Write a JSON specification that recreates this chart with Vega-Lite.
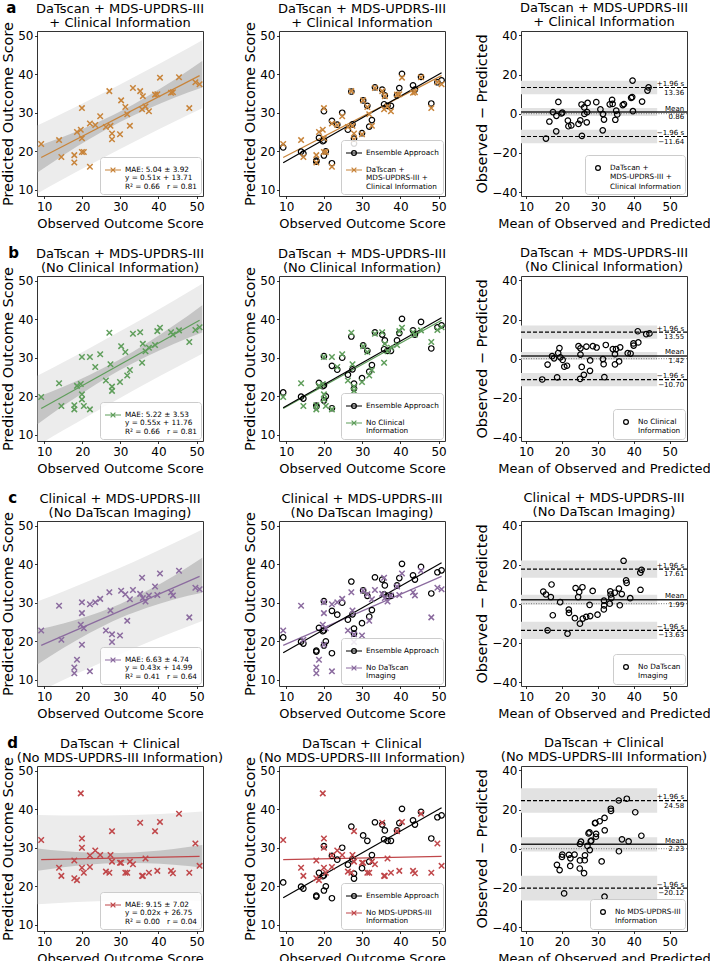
{
"$schema": "https://vega.github.io/schema/vega-lite/v6.json",
"padding": {"left": 0, "top": 1, "right": 0, "bottom": 0},
"background": "white",
"config": {
  "font": "DejaVu Sans",
  "view": {"stroke": "#333333", "strokeWidth": 1},
  "axis": {"domain": false, "grid": false, "tickSize": 2.5, "tickWidth": 0.8, "tickColor": "#000000", "labelFontSize": 12, "labelColor": "#000000", "labelPadding": 1.5, "titleFontSize": 13, "titleFontWeight": "normal", "titleColor": "#000000", "labelFlush": false, "labelOverlap": false, "titlePadding": 2},
  "axisX": {"labelPadding": 2.5, "titlePadding": 5},
  "axisY": {"titleFontSize": 14.5},
  "title": {"fontSize": 13, "fontWeight": "normal", "color": "#000000", "frame": "group", "anchor": "middle", "offset": 3, "lineHeight": 14},
  "legend": {"orient": "bottom-right", "offset": 2, "padding": 4, "strokeColor": "#cccccc", "fillColor": "rgba(255,255,255,0.85)", "cornerRadius": 3, "labelFontSize": 7.3, "labelColor": "#000000", "symbolSize": 256, "symbolStrokeWidth": 1.2, "labelOffset": 3, "rowPadding": 3, "labelLimit": 300, "labelBaseline": "middle"}
},
"datasets": {
  "pts": [
    {"obs":9.2,"ens":21.0,"pa":21.9,"ma":15.55,"da":-12.7,"pb":19.8,"mb":14.5,"db":-10.6,"pc":22.8,"mc":16.0,"dc":-13.6,"pd":32.0,"md":20.6,"dd":-22.8},
    {"obs":13.9,"ens":19.9,"pa":22.9,"ma":18.4,"da":-9.0,"pb":23.4,"mb":18.65,"db":-9.5,"pc":29.2,"mc":21.55,"dc":-15.3,"pd":24.8,"md":19.35,"dd":-10.9},
    {"obs":14.5,"ens":19.4,"pa":18.5,"ma":16.5,"da":-4.0,"pb":17.5,"mb":16.0,"db":-3.0,"pc":20.4,"mc":17.45,"dc":-5.9,"pd":22.7,"md":18.6,"dd":-8.2},
    {"obs":17.9,"ens":17.3,"pa":19.0,"ma":18.45,"da":-1.1,"pb":17.7,"mb":17.8,"db":0.2,"pc":13.2,"mc":15.55,"dc":4.7,"pd":26.7,"md":22.3,"dd":-8.8},
    {"obs":17.9,"ens":17.6,"pa":17.1,"ma":17.5,"da":0.8,"pb":16.6,"mb":17.25,"db":1.3,"pc":11.7,"mc":14.8,"dc":6.2,"pd":22.1,"md":20.0,"dd":-4.2},
    {"obs":18.6,"ens":23.5,"pa":25.0,"ma":21.8,"da":-6.4,"pb":22.7,"mb":20.65,"db":-4.1,"pc":15.2,"mc":16.9,"dc":3.4,"pd":21.6,"md":20.1,"dd":-3.0},
    {"obs":19.6,"ens":22.6,"pa":25.6,"ma":22.6,"da":-6.0,"pb":23.2,"mb":21.4,"db":-3.6,"pc":24.3,"mc":21.95,"dc":-4.7,"pd":44.1,"md":31.85,"dd":-24.5},
    {"obs":19.9,"ens":30.4,"pa":31.2,"ma":25.55,"da":-11.3,"pb":30.2,"mb":25.05,"db":-10.3,"pc":30.1,"mc":25.0,"dc":-10.2,"pd":32.4,"md":26.15,"dd":-12.5},
    {"obs":19.9,"ens":22.8,"pa":23.4,"ma":21.65,"da":-3.5,"pb":20.5,"mb":20.2,"db":-0.6,"pc":27.3,"mc":23.6,"dc":-7.4,"pd":30.0,"md":24.95,"dd":-10.1},
    {"obs":19.9,"ens":18.9,"pa":19.8,"ma":19.85,"da":0.1,"pb":19.2,"mb":19.55,"db":0.7,"pc":19.1,"mc":19.5,"dc":0.8,"pd":24.8,"md":22.35,"dd":-4.9},
    {"obs":20.4,"ens":20.0,"pa":19.8,"ma":20.1,"da":0.6,"pb":17.5,"mb":18.95,"db":2.9,"pc":23.4,"mc":21.9,"dc":-3.0,"pd":23.5,"md":21.95,"dd":-3.1},
    {"obs":22.0,"ens":27.9,"pa":27.2,"ma":24.6,"da":-5.2,"pb":30.2,"mb":26.1,"db":-8.2,"pc":29.6,"mc":25.8,"dc":-7.6,"pd":28.0,"md":25.0,"dd":-6.0},
    {"obs":22.0,"ens":16.9,"pa":16.0,"ma":19.0,"da":6.0,"pb":16.6,"mb":19.3,"db":5.4,"pc":12.2,"mc":17.1,"dc":9.8,"pd":25.0,"md":23.5,"dd":-3.0},
    {"obs":23.4,"ens":26.9,"pa":26.8,"ma":25.1,"da":-3.4,"pb":27.6,"mb":25.5,"db":-4.2,"pc":30.1,"mc":26.75,"dc":-6.7,"pd":29.3,"md":26.35,"dd":-5.9},
    {"obs":24.7,"ens":30.0,"pa":29.1,"ma":26.9,"da":-4.4,"pb":30.9,"mb":27.8,"db":-6.2,"pc":31.0,"mc":27.85,"dc":-6.3,"pd":28.1,"md":26.4,"dd":-3.4},
    {"obs":26.2,"ens":25.6,"pa":26.3,"ma":26.25,"da":-0.1,"pb":24.1,"mb":25.15,"db":2.1,"pc":22.8,"mc":24.5,"dc":3.4,"pd":23.8,"md":25.0,"dd":2.4},
    {"obs":27.1,"ens":35.5,"pa":35.6,"ma":31.35,"da":-8.5,"pb":36.5,"mb":31.8,"db":-9.4,"pc":32.7,"mc":29.9,"dc":-5.6,"pd":23.5,"md":25.3,"dd":3.6},
    {"obs":27.4,"ens":27.0,"pa":26.6,"ma":27.0,"da":0.8,"pb":28.3,"mb":27.85,"db":-0.9,"pc":28.0,"mc":27.7,"dc":-0.6,"pd":28.1,"md":27.75,"dd":-0.7},
    {"obs":27.8,"ens":23.3,"pa":24.6,"ma":26.2,"da":3.2,"pb":22.5,"mb":25.15,"db":5.3,"pc":21.8,"mc":24.8,"dc":6.0,"pd":34.3,"md":31.05,"dd":-6.5},
    {"obs":27.8,"ens":22.0,"pa":23.1,"ma":25.45,"da":4.7,"pb":21.4,"mb":24.6,"db":6.4,"pc":19.8,"mc":23.8,"dc":8.0,"pd":26.4,"md":27.1,"dd":1.4},
    {"obs":29.9,"ens":24.7,"pa":24.4,"ma":27.15,"da":5.5,"pb":23.7,"mb":26.8,"db":6.2,"pc":21.5,"mc":25.7,"dc":8.4,"pd":26.1,"md":28.0,"dd":3.8},
    {"obs":30.2,"ens":33.2,"pa":33.2,"ma":31.7,"da":-3.0,"pb":33.0,"mb":31.6,"db":-2.8,"pc":33.1,"mc":31.65,"dc":-2.9,"pd":26.1,"md":28.15,"dd":4.1},
    {"obs":31.3,"ens":31.8,"pa":31.5,"ma":31.4,"da":-0.2,"pb":31.5,"mb":31.4,"db":-0.2,"pc":32.2,"mc":31.75,"dc":-0.9,"pd":23.5,"md":27.4,"dd":7.8},
    {"obs":31.8,"ens":26.4,"pa":29.6,"ma":30.7,"da":2.2,"pb":25.4,"mb":28.6,"db":6.4,"pc":25.3,"mc":28.55,"dc":6.5,"pd":23.5,"md":27.65,"dd":8.3},
    {"obs":32.5,"ens":28.1,"pa":26.6,"ma":29.55,"da":5.9,"pb":26.8,"mb":29.65,"db":5.7,"pc":30.9,"mc":31.7,"dc":1.6,"pd":26.4,"md":29.45,"dd":6.1},
    {"obs":33.3,"ens":36.6,"pa":36.4,"ma":34.85,"da":-3.1,"pb":36.2,"mb":34.75,"db":-2.9,"pc":33.3,"mc":33.3,"dc":0.0,"pd":25.7,"md":29.5,"dd":7.6},
    {"obs":35.2,"ens":36.0,"pa":35.6,"ma":35.4,"da":-0.4,"pb":36.6,"mb":35.9,"db":-1.4,"pc":32.3,"mc":33.75,"dc":2.9,"pd":36.5,"md":35.85,"dd":-1.3},
    {"obs":35.9,"ens":34.5,"pa":34.3,"ma":35.1,"da":1.6,"pb":33.6,"mb":34.75,"db":2.3,"pc":31.2,"mc":33.55,"dc":4.7,"pd":22.7,"md":29.3,"dd":13.2},
    {"obs":35.7,"ens":32.2,"pa":30.9,"ma":33.3,"da":4.8,"pb":28.7,"mb":32.2,"db":7.0,"pc":36.5,"mc":36.1,"dc":-0.8,"pd":22.7,"md":29.2,"dd":13.0},
    {"obs":36.6,"ens":31.8,"pa":31.6,"ma":34.1,"da":5.0,"pb":31.7,"mb":34.15,"db":4.9,"pc":30.3,"mc":33.45,"dc":6.3,"pd":27.2,"md":31.9,"dd":9.4},
    {"obs":37.5,"ens":31.8,"pa":30.4,"ma":33.95,"da":7.1,"pb":32.6,"mb":35.05,"db":4.9,"pc":31.9,"mc":34.7,"dc":5.6,"pd":23.5,"md":30.5,"dd":14.0},
    {"obs":39.1,"ens":34.5,"pa":34.7,"ma":36.9,"da":4.4,"pb":33.3,"mb":36.2,"db":5.8,"pc":34.2,"mc":36.65,"dc":4.9,"pd":34.3,"md":36.7,"dd":4.8},
    {"obs":39.7,"ens":36.4,"pa":34.8,"ma":37.25,"da":4.9,"pb":36.9,"mb":38.3,"db":2.8,"pc":32.0,"mc":35.85,"dc":7.7,"pd":24.0,"md":31.85,"dd":15.7},
    {"obs":40.4,"ens":40.1,"pa":39.1,"ma":39.75,"da":1.3,"pb":37.8,"mb":39.1,"db":2.6,"pc":37.6,"mc":39.0,"dc":2.8,"pd":36.7,"md":38.55,"dd":3.7},
    {"obs":43.3,"ens":37.1,"pa":35.2,"ma":39.25,"da":8.1,"pb":36.6,"mb":39.95,"db":6.7,"pc":32.7,"mc":38.0,"dc":10.6,"pd":24.0,"md":33.65,"dd":19.3},
    {"obs":43.8,"ens":36.0,"pa":35.3,"ma":39.55,"da":8.5,"pb":36.0,"mb":39.9,"db":7.8,"pc":31.9,"mc":37.85,"dc":11.9,"pd":23.4,"md":33.6,"dd":20.4},
    {"obs":45.4,"ens":39.3,"pa":39.2,"ma":42.3,"da":6.2,"pb":37.1,"mb":41.25,"db":8.3,"pc":38.3,"mc":41.85,"dc":7.1,"pd":38.8,"md":42.1,"dd":6.6},
    {"obs":48.1,"ens":32.4,"pa":31.2,"ma":39.65,"da":16.9,"pb":34.1,"mb":41.1,"db":14.0,"pc":26.2,"mc":37.15,"dc":21.9,"pd":23.5,"md":35.8,"dd":24.6},
    {"obs":49.7,"ens":37.9,"pa":37.9,"ma":43.8,"da":11.8,"pb":37.2,"mb":43.45,"db":12.5,"pc":33.9,"mc":41.8,"dc":15.8,"pd":31.1,"md":40.4,"dd":18.6},
    {"obs":50.8,"ens":38.4,"pa":37.4,"ma":44.1,"da":13.4,"pb":37.9,"mb":44.35,"db":12.9,"pc":33.5,"mc":42.15,"dc":17.3,"pd":25.3,"md":38.05,"dd":25.5}
  ],
  "bands": [
    {"m":"a","x":8.3,"pil":9.14,"pih":26.74,"cil":14.54,"cih":21.34},
    {"m":"a","x":15,"pil":12.78,"pih":29.94,"cil":18.96,"cih":23.76},
    {"m":"a","x":22,"pil":16.49,"pih":33.37,"cil":23.23,"cih":26.63},
    {"m":"a","x":29.8,"pil":20.53,"pih":37.29,"cil":27.56,"cih":30.26},
    {"m":"a","x":37,"pil":24.15,"pih":41.01,"cil":30.93,"cih":34.23},
    {"m":"a","x":44,"pil":27.58,"pih":44.72,"cil":33.85,"cih":38.45},
    {"m":"a","x":51.5,"pil":31.15,"pih":48.81,"cil":36.53,"cih":43.43},
    {"m":"b","x":8.3,"pil":7.27,"pih":25.39,"cil":12.83,"cih":19.83},
    {"m":"b","x":15,"pil":11.17,"pih":28.85,"cil":17.54,"cih":22.48},
    {"m":"b","x":22,"pil":15.17,"pih":32.55,"cil":22.11,"cih":25.61},
    {"m":"b","x":29.8,"pil":19.52,"pih":36.78,"cil":26.76,"cih":29.54},
    {"m":"b","x":37,"pil":23.43,"pih":40.79,"cil":30.41,"cih":33.81},
    {"m":"b","x":44,"pil":27.13,"pih":44.79,"cil":33.59,"cih":38.33},
    {"m":"b","x":51.5,"pil":31.0,"pih":49.18,"cil":36.54,"cih":43.64},
    {"m":"c","x":8.3,"pil":6.76,"pih":30.36,"cil":14.06,"cih":23.06},
    {"m":"c","x":15,"pil":9.94,"pih":32.94,"cil":18.24,"cih":24.64},
    {"m":"c","x":22,"pil":13.13,"pih":35.77,"cil":22.2,"cih":26.7},
    {"m":"c","x":29.8,"pil":16.56,"pih":39.04,"cil":26.0,"cih":29.6},
    {"m":"c","x":37,"pil":19.6,"pih":42.2,"cil":28.7,"cih":33.1},
    {"m":"c","x":44,"pil":22.42,"pih":45.4,"cil":30.86,"cih":36.96},
    {"m":"c","x":51.5,"pil":25.29,"pih":48.97,"cil":32.58,"cih":41.68},
    {"m":"d","x":8.3,"pil":15.32,"pih":38.52,"cil":24.02,"cih":29.82},
    {"m":"d","x":15,"pil":15.72,"pih":38.38,"cil":24.95,"cih":29.15},
    {"m":"d","x":22,"pil":16.04,"pih":38.34,"cil":25.64,"cih":28.74},
    {"m":"d","x":29.8,"pil":16.28,"pih":38.42,"cil":26.05,"cih":28.65},
    {"m":"d","x":37,"pil":16.36,"pih":38.62,"cil":25.99,"cih":28.99},
    {"m":"d","x":44,"pil":16.32,"pih":38.94,"cil":25.58,"cih":29.68},
    {"m":"d","x":51.5,"pil":16.13,"pih":39.43,"cil":24.88,"cih":30.68}
  ],
  "lines": [
    {"m":"a","x":9.2,"y":18.40},{"m":"a","x":50.8,"y":39.62},
    {"m":"b","x":9.2,"y":16.82},{"m":"b","x":50.8,"y":39.70},
    {"m":"c","x":9.2,"y":18.95},{"m":"c","x":50.8,"y":36.83},
    {"m":"d","x":9.2,"y":26.93},{"m":"d","x":50.8,"y":27.77},
    {"m":"ens","x":9.2,"y":17.05},{"m":"ens","x":50.8,"y":40.35}
  ],
  "babands": [
    {"m":"a","lo":-1.19,"hi":2.91},{"m":"a","lo":9.86,"hi":16.86},{"m":"a","lo":-15.14,"hi":-8.14},
    {"m":"b","lo":-0.56,"hi":3.40},{"m":"b","lo":10.15,"hi":16.95},{"m":"b","lo":-14.10,"hi":-7.30},
    {"m":"c","lo":-0.56,"hi":4.54},{"m":"c","lo":13.21,"hi":22.01},{"m":"c","lo":-18.03,"hi":-9.23},
    {"m":"d","lo":-1.42,"hi":5.88},{"m":"d","lo":18.28,"hi":30.88},{"m":"d","lo":-26.42,"hi":-13.82}
  ],
  "balines": [
    {"m":"a","kind":"mean","y":0.86,"top":"Mean","bottom":"0.86"},
    {"m":"a","kind":"up","y":13.36,"top":"+1.96 s","bottom":"13.36"},
    {"m":"a","kind":"low","y":-11.64,"top":"−1.96 s","bottom":"−11.64"},
    {"m":"b","kind":"mean","y":1.42,"top":"Mean","bottom":"1.42"},
    {"m":"b","kind":"up","y":13.55,"top":"+1.96 s","bottom":"13.55"},
    {"m":"b","kind":"low","y":-10.70,"top":"−1.96 s","bottom":"−10.70"},
    {"m":"c","kind":"mean","y":1.99,"top":"Mean","bottom":"1.99"},
    {"m":"c","kind":"up","y":17.61,"top":"+1.96 s","bottom":"17.61"},
    {"m":"c","kind":"low","y":-13.63,"top":"−1.96 s","bottom":"−13.63"},
    {"m":"d","kind":"mean","y":2.23,"top":"Mean","bottom":"2.23"},
    {"m":"d","kind":"up","y":24.58,"top":"+1.96 s","bottom":"24.58"},
    {"m":"d","kind":"low","y":-20.12,"top":"−1.96 s","bottom":"−20.12"}
  ]
},
"spacing": 15,
"resolve": {"scale": {"color": "independent"}, "legend": {"color": "independent"}},
"vconcat": [
 {
  "title": {"text": "a", "anchor": "start", "frame": "bounds", "fontWeight": "bold", "fontSize": 15, "offset": -26.5, "dx": 6, "baseline": "alphabetic"},
  "bounds": "flush", "spacing": 76,
  "resolve": {"scale": {"color": "independent"}, "legend": {"color": "independent"}},
  "hconcat": [
   {"width": 166, "height": 165, "title": {"text": ["DaTscan + MDS-UPDRS-III", "+ Clinical Information"], "offset": -8.5},
    "layer": [
     {"data": {"name": "bands"}, "transform": [{"filter": "datum.m == 'a'"}], "mark": {"type": "area", "color": "#ececec", "clip": true, "interpolate": "monotone"}, "encoding": {"x": {"field": "x", "type": "quantitative"}, "y": {"field": "pil", "type": "quantitative"}, "y2": {"field": "pih"}}},
     {"data": {"name": "bands"}, "transform": [{"filter": "datum.m == 'a'"}], "mark": {"type": "area", "color": "#c5c5c5", "clip": true, "interpolate": "monotone"}, "encoding": {"x": {"field": "x", "type": "quantitative"}, "y": {"field": "cil", "type": "quantitative"}, "y2": {"field": "cih"}}},
     {"data": {"name": "lines"}, "transform": [{"filter": "datum.m == 'a'"}], "mark": {"type": "line", "strokeWidth": 1.2}, "encoding": {"x": {"field": "x", "type": "quantitative"}, "y": {"field": "y", "type": "quantitative"},
       "color": {"datum": "MAE: 5.04 ± 3.92|y = 0.51x + 13.71|R² = 0.66\u00a0\u00a0\u00a0r = 0.81", "scale": {"range": ["#c8843a"]}, "legend": {"title": null, "labelExpr": "split(datum.label, '|')", "symbolType": "M-1,0H1M-0.3,-0.3L0.3,0.3M-0.3,0.3L0.3,-0.3", "encode": {"labels": {"update": {"lineHeight": {"value": 8.3}}}}}}}},
     {"data": {"name": "pts"}, "mark": {"type": "point", "shape": "M-1,-1L1,1M-1,1L1,-1", "filled": false, "color": "#c8843a", "size": 30, "strokeWidth": 1.5, "opacity": 1},
      "encoding": {"x": {"field": "obs", "type": "quantitative", "scale": {"domain": [8.1, 51.7], "nice": false, "zero": false}, "axis": {"title": "Observed Outcome Score", "values": [10, 20, 30, 40, 50]}},
                   "y": {"field": "pa", "type": "quantitative", "scale": {"domain": [8.4, 51.2], "nice": false, "zero": false}, "axis": {"title": "Predicted Outcome Score", "values": [10, 20, 30, 40, 50]}}}}
    ]},
   {"width": 166, "height": 165, "title": {"text": ["DaTscan + MDS-UPDRS-III", "+ Clinical Information"], "offset": -8.5},
    "layer": [
     {"data": {"name": "lines"}, "transform": [{"filter": "datum.m == 'ens' || datum.m == 'a'"}], "mark": {"type": "line", "strokeWidth": 1.2}, "encoding": {"x": {"field": "x", "type": "quantitative"}, "y": {"field": "y", "type": "quantitative"},
       "color": {"field": "m", "type": "nominal", "scale": {"domain": ["ens", "a"], "range": ["#000000", "#c8843a"]}, "legend": {"title": null, "labelExpr": "datum.value == 'ens' ? 'Ensemble Approach' : ['DaTscan +', 'MDS-UPDRS-III +', 'Clinical Information']", "encode": {"symbols": {"update": {"shape": {"signal": "datum.value == 'ens' ? 'M-1,0H1M0.3,0A0.3,0.3 0 1 1 -0.3,0A0.3,0.3 0 1 1 0.3,0' : 'M-1,0H1M-0.3,-0.3L0.3,0.3M-0.3,0.3L0.3,-0.3'"}, "fill": {"value": "transparent"}}}, "labels": {"update": {"lineHeight": {"value": 8.3}}}}}}}},
     {"data": {"name": "pts"}, "mark": {"type": "point", "shape": "circle", "filled": false, "color": "#000000", "size": 30, "strokeWidth": 1.2, "opacity": 1}, "encoding": {"x": {"field": "obs", "type": "quantitative"}, "y": {"field": "ens", "type": "quantitative"}}},
     {"data": {"name": "pts"}, "mark": {"type": "point", "shape": "M-1,-1L1,1M-1,1L1,-1", "filled": false, "color": "#c8843a", "size": 30, "strokeWidth": 1.5, "opacity": 1},
      "encoding": {"x": {"field": "obs", "type": "quantitative", "scale": {"domain": [8.1, 51.7], "nice": false, "zero": false}, "axis": {"title": "Observed Outcome Score", "values": [10, 20, 30, 40, 50]}},
                   "y": {"field": "pa", "type": "quantitative", "scale": {"domain": [8.4, 51.2], "nice": false, "zero": false}, "axis": {"title": "Predicted Outcome Score", "values": [10, 20, 30, 40, 50]}}}}
    ]},
   {"width": 166, "height": 165, "title": {"text": ["DaTscan + MDS-UPDRS-III", "+ Clinical Information"], "offset": 0},
    "layer": [
     {"data": {"name": "babands"}, "transform": [{"filter": "datum.m == 'a'"}], "mark": {"type": "rect", "color": "#e2e2e2"}, "encoding": {"x": {"datum": 8.6}, "x2": {"datum": 46.5}, "y": {"field": "lo", "type": "quantitative"}, "y2": {"field": "hi"}}},
     {"data": {"values": [{}]}, "mark": {"type": "rule", "color": "#777777", "strokeDash": [1, 1.5], "strokeWidth": 1}, "encoding": {"y": {"datum": 0}}},
     {"data": {"name": "balines"}, "transform": [{"filter": "datum.m == 'a' && datum.kind == 'mean'"}], "mark": {"type": "rule", "color": "#222222", "strokeWidth": 1.5}, "encoding": {"y": {"field": "y", "type": "quantitative"}}},
     {"data": {"name": "balines"}, "transform": [{"filter": "datum.m == 'a' && datum.kind != 'mean'"}], "mark": {"type": "rule", "color": "#000000", "strokeWidth": 1.2, "strokeDash": [4, 2]}, "encoding": {"y": {"field": "y", "type": "quantitative"}}},
     {"data": {"name": "pts"}, "mark": {"type": "point", "shape": "circle", "filled": false, "size": 30, "strokeWidth": 1.2, "opacity": 1},
      "encoding": {"x": {"field": "ma", "type": "quantitative", "scale": {"domain": [8.6, 54.8], "nice": false, "zero": false}, "axis": {"title": "Mean of Observed and Predicted", "values": [10, 20, 30, 40, 50]}},
                   "y": {"field": "da", "type": "quantitative", "scale": {"domain": [-42, 42.2], "nice": false, "zero": false}, "axis": {"title": "Observed − Predicted", "values": [-40, -20, 0, 20, 40]}},
                   "color": {"datum": "a", "scale": {"range": ["#000000"]}, "legend": {"title": null, "labelExpr": "['DaTscan +', 'MDS-UPDRS-III +', 'Clinical Information']", "symbolType": "M0.3,0A0.3,0.3 0 1 1 -0.3,0A0.3,0.3 0 1 1 0.3,0", "encode": {"symbols": {"update": {"fill": {"value": "transparent"}}}, "labels": {"update": {"lineHeight": {"value": 8.3}}}}}}}},
     {"data": {"name": "balines"}, "transform": [{"filter": "datum.m == 'a'"}], "mark": {"type": "text", "fontSize": 7, "align": "right", "baseline": "alphabetic", "dy": -1.5, "color": "#000000"}, "encoding": {"x": {"datum": 54.0}, "y": {"field": "y", "type": "quantitative"}, "text": {"field": "top"}}},
     {"data": {"name": "balines"}, "transform": [{"filter": "datum.m == 'a'"}], "mark": {"type": "text", "fontSize": 7, "align": "right", "baseline": "top", "dy": 1, "color": "#000000"}, "encoding": {"x": {"datum": 54.0}, "y": {"field": "y", "type": "quantitative"}, "text": {"field": "bottom"}}}
    ]}
  ]
 },
 {
  "title": {"text": "b", "anchor": "start", "frame": "bounds", "fontWeight": "bold", "fontSize": 15, "offset": -26.5, "dx": 8, "baseline": "alphabetic"},
  "bounds": "flush", "spacing": 76,
  "resolve": {"scale": {"color": "independent"}, "legend": {"color": "independent"}},
  "hconcat": [
   {"width": 166, "height": 165, "title": {"text": ["DaTscan + MDS-UPDRS-III", "(No Clinical Information)"], "offset": -8.5},
    "layer": [
     {"data": {"name": "bands"}, "transform": [{"filter": "datum.m == 'b'"}], "mark": {"type": "area", "color": "#ececec", "clip": true, "interpolate": "monotone"}, "encoding": {"x": {"field": "x", "type": "quantitative"}, "y": {"field": "pil", "type": "quantitative"}, "y2": {"field": "pih"}}},
     {"data": {"name": "bands"}, "transform": [{"filter": "datum.m == 'b'"}], "mark": {"type": "area", "color": "#c5c5c5", "clip": true, "interpolate": "monotone"}, "encoding": {"x": {"field": "x", "type": "quantitative"}, "y": {"field": "cil", "type": "quantitative"}, "y2": {"field": "cih"}}},
     {"data": {"name": "lines"}, "transform": [{"filter": "datum.m == 'b'"}], "mark": {"type": "line", "strokeWidth": 1.2}, "encoding": {"x": {"field": "x", "type": "quantitative"}, "y": {"field": "y", "type": "quantitative"},
       "color": {"datum": "MAE: 5.22 ± 3.53|y = 0.55x + 11.76|R² = 0.66\u00a0\u00a0\u00a0r = 0.81", "scale": {"range": ["#5f9e5b"]}, "legend": {"title": null, "labelExpr": "split(datum.label, '|')", "symbolType": "M-1,0H1M-0.3,-0.3L0.3,0.3M-0.3,0.3L0.3,-0.3", "encode": {"labels": {"update": {"lineHeight": {"value": 8.3}}}}}}}},
     {"data": {"name": "pts"}, "mark": {"type": "point", "shape": "M-1,-1L1,1M-1,1L1,-1", "filled": false, "color": "#5f9e5b", "size": 30, "strokeWidth": 1.5, "opacity": 1},
      "encoding": {"x": {"field": "obs", "type": "quantitative", "scale": {"domain": [8.1, 51.7], "nice": false, "zero": false}, "axis": {"title": "Observed Outcome Score", "values": [10, 20, 30, 40, 50]}},
                   "y": {"field": "pb", "type": "quantitative", "scale": {"domain": [8.4, 51.2], "nice": false, "zero": false}, "axis": {"title": "Predicted Outcome Score", "values": [10, 20, 30, 40, 50]}}}}
    ]},
   {"width": 166, "height": 165, "title": {"text": ["DaTscan + MDS-UPDRS-III", "(No Clinical Information)"], "offset": -8.5},
    "layer": [
     {"data": {"name": "lines"}, "transform": [{"filter": "datum.m == 'ens' || datum.m == 'b'"}], "mark": {"type": "line", "strokeWidth": 1.2}, "encoding": {"x": {"field": "x", "type": "quantitative"}, "y": {"field": "y", "type": "quantitative"},
       "color": {"field": "m", "type": "nominal", "scale": {"domain": ["ens", "b"], "range": ["#000000", "#5f9e5b"]}, "legend": {"title": null, "labelExpr": "datum.value == 'ens' ? 'Ensemble Approach' : ['No Clinical', 'Information']", "encode": {"symbols": {"update": {"shape": {"signal": "datum.value == 'ens' ? 'M-1,0H1M0.3,0A0.3,0.3 0 1 1 -0.3,0A0.3,0.3 0 1 1 0.3,0' : 'M-1,0H1M-0.3,-0.3L0.3,0.3M-0.3,0.3L0.3,-0.3'"}, "fill": {"value": "transparent"}}}, "labels": {"update": {"lineHeight": {"value": 8.3}}}}}}}},
     {"data": {"name": "pts"}, "mark": {"type": "point", "shape": "circle", "filled": false, "color": "#000000", "size": 30, "strokeWidth": 1.2, "opacity": 1}, "encoding": {"x": {"field": "obs", "type": "quantitative"}, "y": {"field": "ens", "type": "quantitative"}}},
     {"data": {"name": "pts"}, "mark": {"type": "point", "shape": "M-1,-1L1,1M-1,1L1,-1", "filled": false, "color": "#5f9e5b", "size": 30, "strokeWidth": 1.5, "opacity": 1},
      "encoding": {"x": {"field": "obs", "type": "quantitative", "scale": {"domain": [8.1, 51.7], "nice": false, "zero": false}, "axis": {"title": "Observed Outcome Score", "values": [10, 20, 30, 40, 50]}},
                   "y": {"field": "pb", "type": "quantitative", "scale": {"domain": [8.4, 51.2], "nice": false, "zero": false}, "axis": {"title": "Predicted Outcome Score", "values": [10, 20, 30, 40, 50]}}}}
    ]},
   {"width": 166, "height": 165, "title": {"text": ["DaTscan + MDS-UPDRS-III", "(No Clinical Information)"], "offset": 0},
    "layer": [
     {"data": {"name": "babands"}, "transform": [{"filter": "datum.m == 'b'"}], "mark": {"type": "rect", "color": "#e2e2e2"}, "encoding": {"x": {"datum": 8.6}, "x2": {"datum": 46.5}, "y": {"field": "lo", "type": "quantitative"}, "y2": {"field": "hi"}}},
     {"data": {"values": [{}]}, "mark": {"type": "rule", "color": "#777777", "strokeDash": [1, 1.5], "strokeWidth": 1}, "encoding": {"y": {"datum": 0}}},
     {"data": {"name": "balines"}, "transform": [{"filter": "datum.m == 'b' && datum.kind == 'mean'"}], "mark": {"type": "rule", "color": "#222222", "strokeWidth": 1.5}, "encoding": {"y": {"field": "y", "type": "quantitative"}}},
     {"data": {"name": "balines"}, "transform": [{"filter": "datum.m == 'b' && datum.kind != 'mean'"}], "mark": {"type": "rule", "color": "#000000", "strokeWidth": 1.2, "strokeDash": [4, 2]}, "encoding": {"y": {"field": "y", "type": "quantitative"}}},
     {"data": {"name": "pts"}, "mark": {"type": "point", "shape": "circle", "filled": false, "size": 30, "strokeWidth": 1.2, "opacity": 1},
      "encoding": {"x": {"field": "mb", "type": "quantitative", "scale": {"domain": [8.6, 54.8], "nice": false, "zero": false}, "axis": {"title": "Mean of Observed and Predicted", "values": [10, 20, 30, 40, 50]}},
                   "y": {"field": "db", "type": "quantitative", "scale": {"domain": [-42, 42.2], "nice": false, "zero": false}, "axis": {"title": "Observed − Predicted", "values": [-40, -20, 0, 20, 40]}},
                   "color": {"datum": "b", "scale": {"range": ["#000000"]}, "legend": {"title": null, "labelExpr": "['No Clinical', 'Information']", "symbolType": "M0.3,0A0.3,0.3 0 1 1 -0.3,0A0.3,0.3 0 1 1 0.3,0", "encode": {"symbols": {"update": {"fill": {"value": "transparent"}}}, "labels": {"update": {"lineHeight": {"value": 8.3}}}}}}}},
     {"data": {"name": "balines"}, "transform": [{"filter": "datum.m == 'b'"}], "mark": {"type": "text", "fontSize": 7, "align": "right", "baseline": "alphabetic", "dy": -1.5, "color": "#000000"}, "encoding": {"x": {"datum": 54.0}, "y": {"field": "y", "type": "quantitative"}, "text": {"field": "top"}}},
     {"data": {"name": "balines"}, "transform": [{"filter": "datum.m == 'b'"}], "mark": {"type": "text", "fontSize": 7, "align": "right", "baseline": "top", "dy": 1, "color": "#000000"}, "encoding": {"x": {"datum": 54.0}, "y": {"field": "y", "type": "quantitative"}, "text": {"field": "bottom"}}}
    ]}
  ]
 },
 {
  "title": {"text": "c", "anchor": "start", "frame": "bounds", "fontWeight": "bold", "fontSize": 15, "offset": -26.5, "dx": 8, "baseline": "alphabetic"},
  "bounds": "flush", "spacing": 76,
  "resolve": {"scale": {"color": "independent"}, "legend": {"color": "independent"}},
  "hconcat": [
   {"width": 166, "height": 165, "title": {"text": ["Clinical + MDS-UPDRS-III", "(No DaTscan Imaging)"], "offset": -8.5},
    "layer": [
     {"data": {"name": "bands"}, "transform": [{"filter": "datum.m == 'c'"}], "mark": {"type": "area", "color": "#ececec", "clip": true, "interpolate": "monotone"}, "encoding": {"x": {"field": "x", "type": "quantitative"}, "y": {"field": "pil", "type": "quantitative"}, "y2": {"field": "pih"}}},
     {"data": {"name": "bands"}, "transform": [{"filter": "datum.m == 'c'"}], "mark": {"type": "area", "color": "#c5c5c5", "clip": true, "interpolate": "monotone"}, "encoding": {"x": {"field": "x", "type": "quantitative"}, "y": {"field": "cil", "type": "quantitative"}, "y2": {"field": "cih"}}},
     {"data": {"name": "lines"}, "transform": [{"filter": "datum.m == 'c'"}], "mark": {"type": "line", "strokeWidth": 1.2}, "encoding": {"x": {"field": "x", "type": "quantitative"}, "y": {"field": "y", "type": "quantitative"},
       "color": {"datum": "MAE: 6.63 ± 4.74|y = 0.43x + 14.99|R² = 0.41\u00a0\u00a0\u00a0r = 0.64", "scale": {"range": ["#8b6b9f"]}, "legend": {"title": null, "labelExpr": "split(datum.label, '|')", "symbolType": "M-1,0H1M-0.3,-0.3L0.3,0.3M-0.3,0.3L0.3,-0.3", "encode": {"labels": {"update": {"lineHeight": {"value": 8.3}}}}}}}},
     {"data": {"name": "pts"}, "mark": {"type": "point", "shape": "M-1,-1L1,1M-1,1L1,-1", "filled": false, "color": "#8b6b9f", "size": 30, "strokeWidth": 1.5, "opacity": 1},
      "encoding": {"x": {"field": "obs", "type": "quantitative", "scale": {"domain": [8.1, 51.7], "nice": false, "zero": false}, "axis": {"title": "Observed Outcome Score", "values": [10, 20, 30, 40, 50]}},
                   "y": {"field": "pc", "type": "quantitative", "scale": {"domain": [8.4, 51.2], "nice": false, "zero": false}, "axis": {"title": "Predicted Outcome Score", "values": [10, 20, 30, 40, 50]}}}}
    ]},
   {"width": 166, "height": 165, "title": {"text": ["Clinical + MDS-UPDRS-III", "(No DaTscan Imaging)"], "offset": -8.5},
    "layer": [
     {"data": {"name": "lines"}, "transform": [{"filter": "datum.m == 'ens' || datum.m == 'c'"}], "mark": {"type": "line", "strokeWidth": 1.2}, "encoding": {"x": {"field": "x", "type": "quantitative"}, "y": {"field": "y", "type": "quantitative"},
       "color": {"field": "m", "type": "nominal", "scale": {"domain": ["ens", "c"], "range": ["#000000", "#8b6b9f"]}, "legend": {"title": null, "labelExpr": "datum.value == 'ens' ? 'Ensemble Approach' : ['No DaTscan', 'Imaging']", "encode": {"symbols": {"update": {"shape": {"signal": "datum.value == 'ens' ? 'M-1,0H1M0.3,0A0.3,0.3 0 1 1 -0.3,0A0.3,0.3 0 1 1 0.3,0' : 'M-1,0H1M-0.3,-0.3L0.3,0.3M-0.3,0.3L0.3,-0.3'"}, "fill": {"value": "transparent"}}}, "labels": {"update": {"lineHeight": {"value": 8.3}}}}}}}},
     {"data": {"name": "pts"}, "mark": {"type": "point", "shape": "circle", "filled": false, "color": "#000000", "size": 30, "strokeWidth": 1.2, "opacity": 1}, "encoding": {"x": {"field": "obs", "type": "quantitative"}, "y": {"field": "ens", "type": "quantitative"}}},
     {"data": {"name": "pts"}, "mark": {"type": "point", "shape": "M-1,-1L1,1M-1,1L1,-1", "filled": false, "color": "#8b6b9f", "size": 30, "strokeWidth": 1.5, "opacity": 1},
      "encoding": {"x": {"field": "obs", "type": "quantitative", "scale": {"domain": [8.1, 51.7], "nice": false, "zero": false}, "axis": {"title": "Observed Outcome Score", "values": [10, 20, 30, 40, 50]}},
                   "y": {"field": "pc", "type": "quantitative", "scale": {"domain": [8.4, 51.2], "nice": false, "zero": false}, "axis": {"title": "Predicted Outcome Score", "values": [10, 20, 30, 40, 50]}}}}
    ]},
   {"width": 166, "height": 165, "title": {"text": ["Clinical + MDS-UPDRS-III", "(No DaTscan Imaging)"], "offset": 0},
    "layer": [
     {"data": {"name": "babands"}, "transform": [{"filter": "datum.m == 'c'"}], "mark": {"type": "rect", "color": "#e2e2e2"}, "encoding": {"x": {"datum": 8.6}, "x2": {"datum": 46.5}, "y": {"field": "lo", "type": "quantitative"}, "y2": {"field": "hi"}}},
     {"data": {"values": [{}]}, "mark": {"type": "rule", "color": "#777777", "strokeDash": [1, 1.5], "strokeWidth": 1}, "encoding": {"y": {"datum": 0}}},
     {"data": {"name": "balines"}, "transform": [{"filter": "datum.m == 'c' && datum.kind == 'mean'"}], "mark": {"type": "rule", "color": "#222222", "strokeWidth": 1.5}, "encoding": {"y": {"field": "y", "type": "quantitative"}}},
     {"data": {"name": "balines"}, "transform": [{"filter": "datum.m == 'c' && datum.kind != 'mean'"}], "mark": {"type": "rule", "color": "#000000", "strokeWidth": 1.2, "strokeDash": [4, 2]}, "encoding": {"y": {"field": "y", "type": "quantitative"}}},
     {"data": {"name": "pts"}, "mark": {"type": "point", "shape": "circle", "filled": false, "size": 30, "strokeWidth": 1.2, "opacity": 1},
      "encoding": {"x": {"field": "mc", "type": "quantitative", "scale": {"domain": [8.6, 54.8], "nice": false, "zero": false}, "axis": {"title": "Mean of Observed and Predicted", "values": [10, 20, 30, 40, 50]}},
                   "y": {"field": "dc", "type": "quantitative", "scale": {"domain": [-42, 42.2], "nice": false, "zero": false}, "axis": {"title": "Observed − Predicted", "values": [-40, -20, 0, 20, 40]}},
                   "color": {"datum": "c", "scale": {"range": ["#000000"]}, "legend": {"title": null, "labelExpr": "['No DaTscan', 'Imaging']", "symbolType": "M0.3,0A0.3,0.3 0 1 1 -0.3,0A0.3,0.3 0 1 1 0.3,0", "encode": {"symbols": {"update": {"fill": {"value": "transparent"}}}, "labels": {"update": {"lineHeight": {"value": 8.3}}}}}}}},
     {"data": {"name": "balines"}, "transform": [{"filter": "datum.m == 'c'"}], "mark": {"type": "text", "fontSize": 7, "align": "right", "baseline": "alphabetic", "dy": -1.5, "color": "#000000"}, "encoding": {"x": {"datum": 54.0}, "y": {"field": "y", "type": "quantitative"}, "text": {"field": "top"}}},
     {"data": {"name": "balines"}, "transform": [{"filter": "datum.m == 'c'"}], "mark": {"type": "text", "fontSize": 7, "align": "right", "baseline": "top", "dy": 1, "color": "#000000"}, "encoding": {"x": {"datum": 54.0}, "y": {"field": "y", "type": "quantitative"}, "text": {"field": "bottom"}}}
    ]}
  ]
 },
 {
  "title": {"text": "d", "anchor": "start", "frame": "bounds", "fontWeight": "bold", "fontSize": 15, "offset": -26.5, "dx": 7, "baseline": "alphabetic"},
  "bounds": "flush", "spacing": 76,
  "resolve": {"scale": {"color": "independent"}, "legend": {"color": "independent"}},
  "hconcat": [
   {"width": 166, "height": 165, "title": {"text": ["DaTscan + Clinical", "(No MDS-UPDRS-III Information)"], "offset": -8.5},
    "layer": [
     {"data": {"name": "bands"}, "transform": [{"filter": "datum.m == 'd'"}], "mark": {"type": "area", "color": "#ececec", "clip": true, "interpolate": "monotone"}, "encoding": {"x": {"field": "x", "type": "quantitative"}, "y": {"field": "pil", "type": "quantitative"}, "y2": {"field": "pih"}}},
     {"data": {"name": "bands"}, "transform": [{"filter": "datum.m == 'd'"}], "mark": {"type": "area", "color": "#c5c5c5", "clip": true, "interpolate": "monotone"}, "encoding": {"x": {"field": "x", "type": "quantitative"}, "y": {"field": "cil", "type": "quantitative"}, "y2": {"field": "cih"}}},
     {"data": {"name": "lines"}, "transform": [{"filter": "datum.m == 'd'"}], "mark": {"type": "line", "strokeWidth": 1.2}, "encoding": {"x": {"field": "x", "type": "quantitative"}, "y": {"field": "y", "type": "quantitative"},
       "color": {"datum": "MAE: 9.15 ± 7.02|y = 0.02x + 26.75|R² = 0.00\u00a0\u00a0\u00a0r = 0.04", "scale": {"range": ["#c0474a"]}, "legend": {"title": null, "labelExpr": "split(datum.label, '|')", "symbolType": "M-1,0H1M-0.3,-0.3L0.3,0.3M-0.3,0.3L0.3,-0.3", "encode": {"labels": {"update": {"lineHeight": {"value": 8.3}}}}}}}},
     {"data": {"name": "pts"}, "mark": {"type": "point", "shape": "M-1,-1L1,1M-1,1L1,-1", "filled": false, "color": "#c0474a", "size": 30, "strokeWidth": 1.5, "opacity": 1},
      "encoding": {"x": {"field": "obs", "type": "quantitative", "scale": {"domain": [8.1, 51.7], "nice": false, "zero": false}, "axis": {"title": "Observed Outcome Score", "values": [10, 20, 30, 40, 50]}},
                   "y": {"field": "pd", "type": "quantitative", "scale": {"domain": [8.4, 51.2], "nice": false, "zero": false}, "axis": {"title": "Predicted Outcome Score", "values": [10, 20, 30, 40, 50]}}}}
    ]},
   {"width": 166, "height": 165, "title": {"text": ["DaTscan + Clinical", "(No MDS-UPDRS-III Information)"], "offset": -8.5},
    "layer": [
     {"data": {"name": "lines"}, "transform": [{"filter": "datum.m == 'ens' || datum.m == 'd'"}], "mark": {"type": "line", "strokeWidth": 1.2}, "encoding": {"x": {"field": "x", "type": "quantitative"}, "y": {"field": "y", "type": "quantitative"},
       "color": {"field": "m", "type": "nominal", "scale": {"domain": ["ens", "d"], "range": ["#000000", "#c0474a"]}, "legend": {"title": null, "labelExpr": "datum.value == 'ens' ? 'Ensemble Approach' : ['No MDS-UPDRS-III', 'Information']", "encode": {"symbols": {"update": {"shape": {"signal": "datum.value == 'ens' ? 'M-1,0H1M0.3,0A0.3,0.3 0 1 1 -0.3,0A0.3,0.3 0 1 1 0.3,0' : 'M-1,0H1M-0.3,-0.3L0.3,0.3M-0.3,0.3L0.3,-0.3'"}, "fill": {"value": "transparent"}}}, "labels": {"update": {"lineHeight": {"value": 8.3}}}}}}}},
     {"data": {"name": "pts"}, "mark": {"type": "point", "shape": "circle", "filled": false, "color": "#000000", "size": 30, "strokeWidth": 1.2, "opacity": 1}, "encoding": {"x": {"field": "obs", "type": "quantitative"}, "y": {"field": "ens", "type": "quantitative"}}},
     {"data": {"name": "pts"}, "mark": {"type": "point", "shape": "M-1,-1L1,1M-1,1L1,-1", "filled": false, "color": "#c0474a", "size": 30, "strokeWidth": 1.5, "opacity": 1},
      "encoding": {"x": {"field": "obs", "type": "quantitative", "scale": {"domain": [8.1, 51.7], "nice": false, "zero": false}, "axis": {"title": "Observed Outcome Score", "values": [10, 20, 30, 40, 50]}},
                   "y": {"field": "pd", "type": "quantitative", "scale": {"domain": [8.4, 51.2], "nice": false, "zero": false}, "axis": {"title": "Predicted Outcome Score", "values": [10, 20, 30, 40, 50]}}}}
    ]},
   {"width": 166, "height": 165, "title": {"text": ["DaTscan + Clinical", "(No MDS-UPDRS-III Information)"], "offset": 0},
    "layer": [
     {"data": {"name": "babands"}, "transform": [{"filter": "datum.m == 'd'"}], "mark": {"type": "rect", "color": "#e2e2e2"}, "encoding": {"x": {"datum": 8.6}, "x2": {"datum": 46.5}, "y": {"field": "lo", "type": "quantitative"}, "y2": {"field": "hi"}}},
     {"data": {"values": [{}]}, "mark": {"type": "rule", "color": "#777777", "strokeDash": [1, 1.5], "strokeWidth": 1}, "encoding": {"y": {"datum": 0}}},
     {"data": {"name": "balines"}, "transform": [{"filter": "datum.m == 'd' && datum.kind == 'mean'"}], "mark": {"type": "rule", "color": "#222222", "strokeWidth": 1.5}, "encoding": {"y": {"field": "y", "type": "quantitative"}}},
     {"data": {"name": "balines"}, "transform": [{"filter": "datum.m == 'd' && datum.kind != 'mean'"}], "mark": {"type": "rule", "color": "#000000", "strokeWidth": 1.2, "strokeDash": [4, 2]}, "encoding": {"y": {"field": "y", "type": "quantitative"}}},
     {"data": {"name": "pts"}, "mark": {"type": "point", "shape": "circle", "filled": false, "size": 30, "strokeWidth": 1.2, "opacity": 1},
      "encoding": {"x": {"field": "md", "type": "quantitative", "scale": {"domain": [8.6, 54.8], "nice": false, "zero": false}, "axis": {"title": "Mean of Observed and Predicted", "values": [10, 20, 30, 40, 50]}},
                   "y": {"field": "dd", "type": "quantitative", "scale": {"domain": [-42, 42.2], "nice": false, "zero": false}, "axis": {"title": "Observed − Predicted", "values": [-40, -20, 0, 20, 40]}},
                   "color": {"datum": "d", "scale": {"range": ["#000000"]}, "legend": {"title": null, "labelExpr": "['No MDS-UPDRS-III', 'Information']", "symbolType": "M0.3,0A0.3,0.3 0 1 1 -0.3,0A0.3,0.3 0 1 1 0.3,0", "encode": {"symbols": {"update": {"fill": {"value": "transparent"}}}, "labels": {"update": {"lineHeight": {"value": 8.3}}}}}}}},
     {"data": {"name": "balines"}, "transform": [{"filter": "datum.m == 'd'"}], "mark": {"type": "text", "fontSize": 7, "align": "right", "baseline": "alphabetic", "dy": -1.5, "color": "#000000"}, "encoding": {"x": {"datum": 54.0}, "y": {"field": "y", "type": "quantitative"}, "text": {"field": "top"}}},
     {"data": {"name": "balines"}, "transform": [{"filter": "datum.m == 'd'"}], "mark": {"type": "text", "fontSize": 7, "align": "right", "baseline": "top", "dy": 1, "color": "#000000"}, "encoding": {"x": {"datum": 54.0}, "y": {"field": "y", "type": "quantitative"}, "text": {"field": "bottom"}}}
    ]}
  ]
 }
]
}
